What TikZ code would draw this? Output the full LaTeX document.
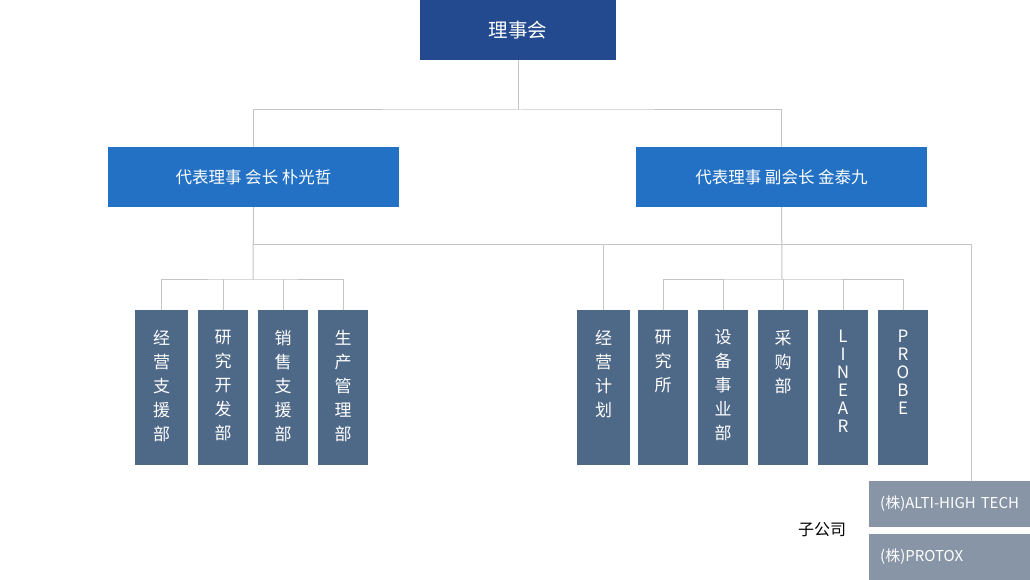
\documentclass[tikz,border=0pt]{standalone}
\usepackage{fontspec}
\setmainfont{Noto Sans CJK SC}
\definecolor{boardblue}{HTML}{234A8F}
\definecolor{repblue}{HTML}{2371C4}
\definecolor{deptgray}{HTML}{4E6887}
\definecolor{subgray}{HTML}{8795A7}
\definecolor{wire}{HTML}{C4C4C4}
\tikzset{
  wire/.style={draw=wire,line width=1pt},
  boardbox/.style={fill=boardblue,text=white,minimum width=196pt,minimum height=60pt,inner sep=0pt,font=\fontsize{19.5}{22}\selectfont},
  repbox/.style={fill=repblue,text=white,minimum width=291pt,minimum height=60pt,inner sep=0pt,font=\fontsize{16.5}{18}\selectfont},
  deptbox/.style={fill=deptgray,minimum width=50pt,minimum height=155pt,inner sep=0pt},
  depttext/.style={text=white,align=center,inner sep=0pt,anchor=north,font=\fontsize{17}{24}\selectfont},
  lattext/.style={text=white,align=center,inner sep=0pt,anchor=north,font=\fontsize{17}{18}\selectfont},
  subbox/.style={fill=subgray,text=white,minimum width=161pt,minimum height=46pt,inner xsep=11pt,inner ysep=0pt,anchor=west,align=left,text width=139pt,font=\fontsize{15}{16}\selectfont}
}
\begin{document}
\begin{tikzpicture}[x=1pt,y=-1pt]
\useasboundingbox (0,0) rectangle (1030,580);
% board and representatives
\node[boardbox] (board) at (518,30) {理事会};
\node[repbox] (lrep) at (253.5,177) {代表理事 会长 朴光哲};
\node[repbox] (rrep) at (781.5,177) {代表理事 副会长 金泰九};
% left departments
\node[deptbox,minimum width=53pt] (l1) at (161.5,387.5) {};
\node[deptbox] (l2) at (223,387.5) {};
\node[deptbox] (l3) at (283,387.5) {};
\node[deptbox] (l4) at (343,387.5) {};
\node[depttext] at ([yshift=-20pt]l1.north) {经\\营\\支\\援\\部};
\node[depttext] at ([yshift=-20pt]l2.north) {研\\究\\开\\发\\部};
\node[depttext] at ([yshift=-20pt]l3.north) {销\\售\\支\\援\\部};
\node[depttext] at ([yshift=-20pt]l4.north) {生\\产\\管\\理\\部};
% right departments
\node[deptbox,minimum width=53pt] (r1) at (603.5,387.5) {};
\node[deptbox] (r2) at (663,387.5) {};
\node[deptbox] (r3) at (723,387.5) {};
\node[deptbox] (r4) at (783,387.5) {};
\node[deptbox] (r5) at (843,387.5) {};
\node[deptbox] (r6) at (903,387.5) {};
\node[depttext] at ([yshift=-20pt]r1.north) {经\\营\\计\\划};
\node[depttext] at ([yshift=-20pt]r2.north) {研\\究\\所};
\node[depttext] at ([yshift=-20pt]r3.north) {设\\备\\事\\业\\部};
\node[depttext] at ([yshift=-20pt]r4.north) {采\\购\\部};
\node[lattext] at ([yshift=-20pt]r5.north) {L\\I\\N\\E\\A\\R};
\node[lattext] at ([yshift=-20pt]r6.north) {P\\R\\O\\B\\E};
% subsidiaries
\node[subbox] (alti) at (869,504) {(株)ALTI-HIGH TECH};
\node[subbox] (protox) at (869,557) {(株)PROTOX};
\node[font=\fontsize{16}{18}\selectfont] (sublabel) at (822,530) {子公司};
% connectors
\coordinate (topbus) at (519,110);
\coordinate (mainbus) at (253,244);
\coordinate (lbus) at (253,279);
\coordinate (rbus) at (782,279);
\draw[wire] (board.south) -- (board.south |- topbus);
\draw[wire] (lrep.north) |- (topbus) -| (rrep.north);
\draw[wire] (lrep.south) -- (lbus);
\draw[wire] (l1.north) |- (lbus) -| (l4.north);
\draw[wire] (l2.north) -- (l2.north |- lbus);
\draw[wire] (l3.north) -- (l3.north |- lbus);
\draw[wire] (mainbus) -| (r1.north);
\draw[wire] (mainbus) -| ([xshift=21.5pt]alti.north);
\draw[wire] (rrep.south) -- (rbus);
\draw[wire] (r2.north) |- (rbus) -| (r6.north);
\draw[wire] (r3.north) -- (r3.north |- rbus);
\draw[wire] (r4.north) -- (r4.north |- rbus);
\draw[wire] (r5.north) -- (r5.north |- rbus);
\end{tikzpicture}
\end{document}
